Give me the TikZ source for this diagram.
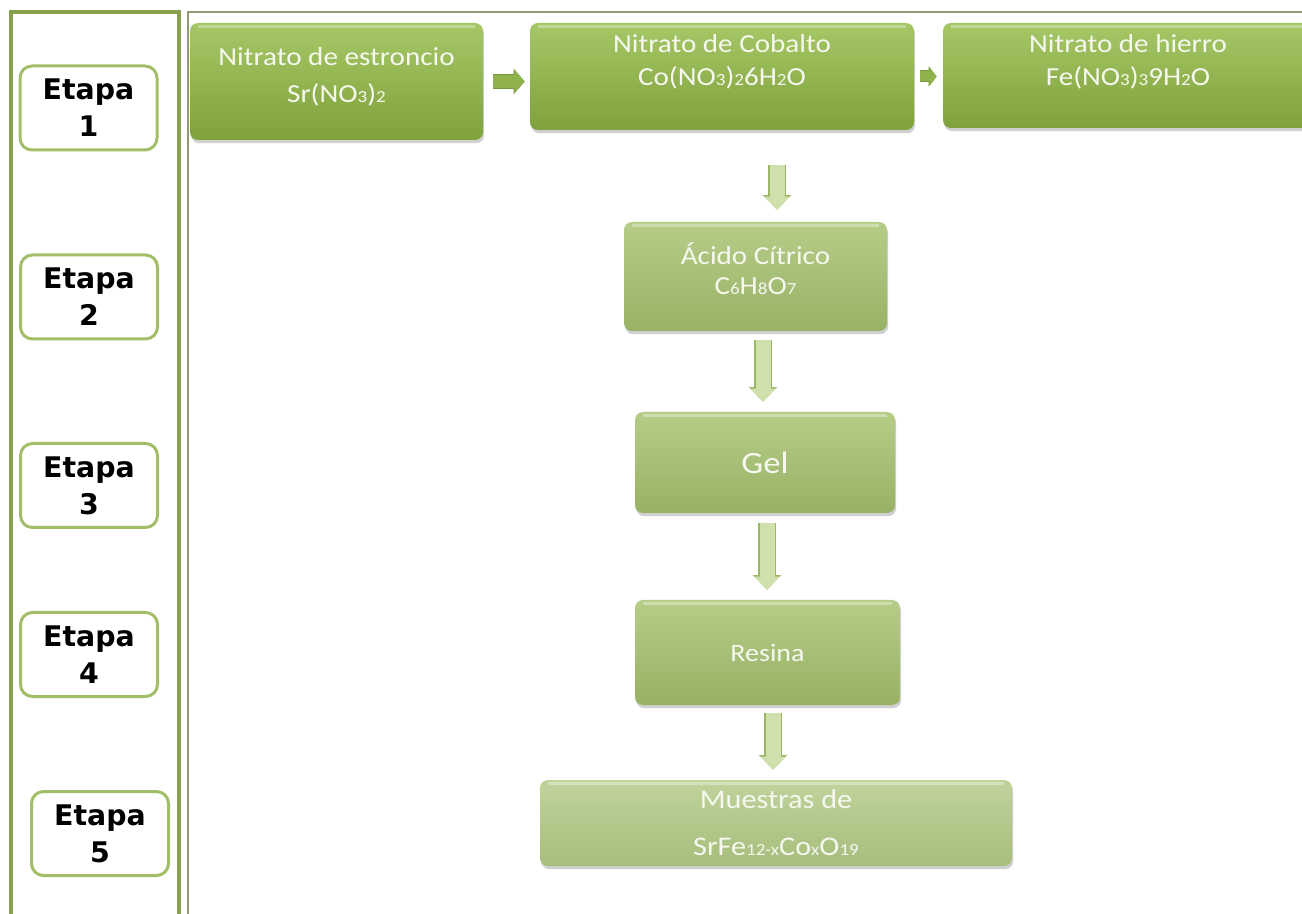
\documentclass[tikz,border=0pt]{standalone}
\usepackage{fontspec}
\usetikzlibrary{arrows.meta,shadows,calc}
\newfontfamily\calf[FakeStretch=1.12]{Carlito}
\newfontfamily\etf{DejaVu Sans}
\newcommand\lo[1]{{\fontsize{8.5pt}{8.5pt}\selectfont #1}}
\definecolor{frameg}{HTML}{86A04E}
\definecolor{thinf}{HTML}{8E9C70}
\definecolor{etb}{HTML}{A2BE68}
\definecolor{topA}{HTML}{A5C766}
\definecolor{botA}{HTML}{80A23C}
\definecolor{topB}{HTML}{B6CD88}
\definecolor{botB}{HTML}{97B165}
\definecolor{topC}{HTML}{C0D39C}
\definecolor{botC}{HTML}{A6BE7C}
\definecolor{txtw}{HTML}{F6F8F0}
\definecolor{harrIn}{HTML}{8FB24C}
\definecolor{harrOut}{HTML}{76963A}
\definecolor{varrIn}{HTML}{CFE0AC}
\definecolor{varrOut}{HTML}{9AB765}
\begin{document}
\begin{tikzpicture}[x=0.5pt,y=-0.5pt,
  gbox/.style={rectangle, rounded corners=4pt, inner sep=0pt,
    drop shadow={shadow xshift=0.6pt, shadow yshift=-1.6pt, opacity=0.3, fill=black!60},
    append after command={
      (\tikzlastnode.north west) edge[draw=white, draw opacity=0.35, line width=1.2pt, shorten <=4pt, shorten >=4pt, transform canvas={yshift=-2pt}] (\tikzlastnode.north east)}},
  rowbox/.style={gbox, top color=topA, bottom color=botA},
  midbox/.style={gbox, top color=topB, bottom color=botB},
  lowbox/.style={gbox, top color=topC, bottom color=botC},
  gtext/.style={text=txtw, align=center, inner sep=0pt},
  etbox/.style={draw=etb, line width=1.5pt, rounded corners=6pt, fill=white,
    minimum width=68.5pt, minimum height=42pt, inner sep=0pt, align=center,
    font=\etf\bfseries\fontsize{14.2pt}{18.5pt}\selectfont},
  harrow/.style={line width=6.5pt, draw=harrIn, -{Triangle[length=5pt,width=11.5pt]},
    preaction={draw=harrOut, line width=7.5pt, -{Triangle[length=5.5pt,width=12.5pt]}}},
  sarrow/.style={line width=5pt, draw=harrIn, -{Triangle[length=3.5pt,width=9pt]},
    preaction={draw=harrOut, line width=6pt, -{Triangle[length=4pt,width=10pt]}}},
  varrow/.style={line width=7.5pt, draw=varrIn, -{Triangle[length=6.5pt,width=12.5pt]},
    preaction={draw=varrOut, line width=8.6pt, -{Triangle[length=7.2pt,width=13.8pt]}}}
]
\useasboundingbox (0,0) rectangle (1302,914);
\fill[white] (0,0) rectangle (1302,914);
\begin{scope}
\clip (0,0) rectangle (1302,914);
% frames
\draw[frameg, line width=2pt] (11,940) -- (11,12) -- (179,12) -- (179,940);
\draw[thinf, line width=0.6pt] (188,940) -- (188,12) -- (1320,12);

% etapa boxes
\node[etbox] (e1) at (88.5,108) {Etapa\\1};
\node[etbox] (e2) at (89,297) {Etapa\\2};
\node[etbox] (e3) at (89,485.5) {Etapa\\3};
\node[etbox] (e4) at (89,654.5) {Etapa\\4};
\node[etbox] (e5) at (100,833.5) {Etapa\\5};

% green boxes
\node[rowbox, minimum width=146.5pt, minimum height=58.5pt] (sr) at (336.5,81.5) {};
\node[rowbox, minimum width=192pt, minimum height=53.5pt] (co) at (722,76.5) {};
\node[rowbox, minimum width=185pt, minimum height=52.5pt] (fe) at (1128,75.5) {};
\node[midbox, minimum width=131.5pt, minimum height=54.5pt] (ac) at (755.5,276.5) {};
\node[midbox, minimum width=130pt, minimum height=50.5pt] (gel) at (765,462.5) {};
\node[midbox, minimum width=132.5pt, minimum height=52.5pt] (res) at (767.5,652.5) {};
\node[lowbox, minimum width=236pt, minimum height=43pt] (mu) at (776,823) {};

% texts
\node[gtext, font=\calf\fontsize{13pt}{18.5pt}\selectfont] (srt) at ([yshift=2.5pt]sr.center) {Nitrato de estroncio\\Sr(NO\lo{3})\lo{2}};
\node[gtext, font=\calf\fontsize{13pt}{16.5pt}\selectfont] (cot) at ([yshift=7.5pt]co.center) {Nitrato de Cobalto\\Co(NO\lo{3})\lo{2}6H\lo{2}O};
\node[gtext, font=\calf\fontsize{13pt}{16.5pt}\selectfont] (fet) at ([yshift=7pt]fe.center) {Nitrato de hierro\\Fe(NO\lo{3})\lo{3}9H\lo{2}O};
\node[gtext, font=\calf\fontsize{13pt}{15pt}\selectfont] (act) at ([yshift=4pt]ac.center) {Ácido Cítrico\\C\lo{6}H\lo{8}O\lo{7}};
\node[gtext, font=\calf\fontsize{15.5pt}{18pt}\selectfont] (gelt) at (gel.center) {Gel};
\node[gtext, font=\calf\fontsize{12.5pt}{15pt}\selectfont] (rest) at (res.center) {Resina};
\node[gtext, font=\calf\fontsize{13.5pt}{23.5pt}\selectfont] (mut) at (mu.center) {Muestras de\\SrFe\lo{12-x}Co\lo{x}O\lo{19}};

% arrows
\draw[harrow, shorten <=5pt, shorten >=2.5pt] (sr.east) -- (sr.east -| co.west);
\draw[sarrow, shorten <=3pt, shorten >=3pt] (co.east) -- (co.east -| fe.west);
\draw[varrow, shorten <=17.5pt, shorten >=6pt] ([xshift=27.5pt]co.south) -- ([xshift=10.75pt]ac.north);
\draw[varrow, shorten <=4.5pt, shorten >=5pt] ([xshift=3.75pt]ac.south) -- ([xshift=-1pt]gel.north);
\draw[varrow, shorten <=5pt, shorten >=5pt] ([xshift=1pt]gel.south) -- ([xshift=-0.25pt]res.north);
\draw[varrow, shorten <=4pt, shorten >=5pt] ([xshift=2.75pt]res.south) -- ([xshift=-1.5pt]mu.north);
\end{scope}
\end{tikzpicture}
\end{document}
